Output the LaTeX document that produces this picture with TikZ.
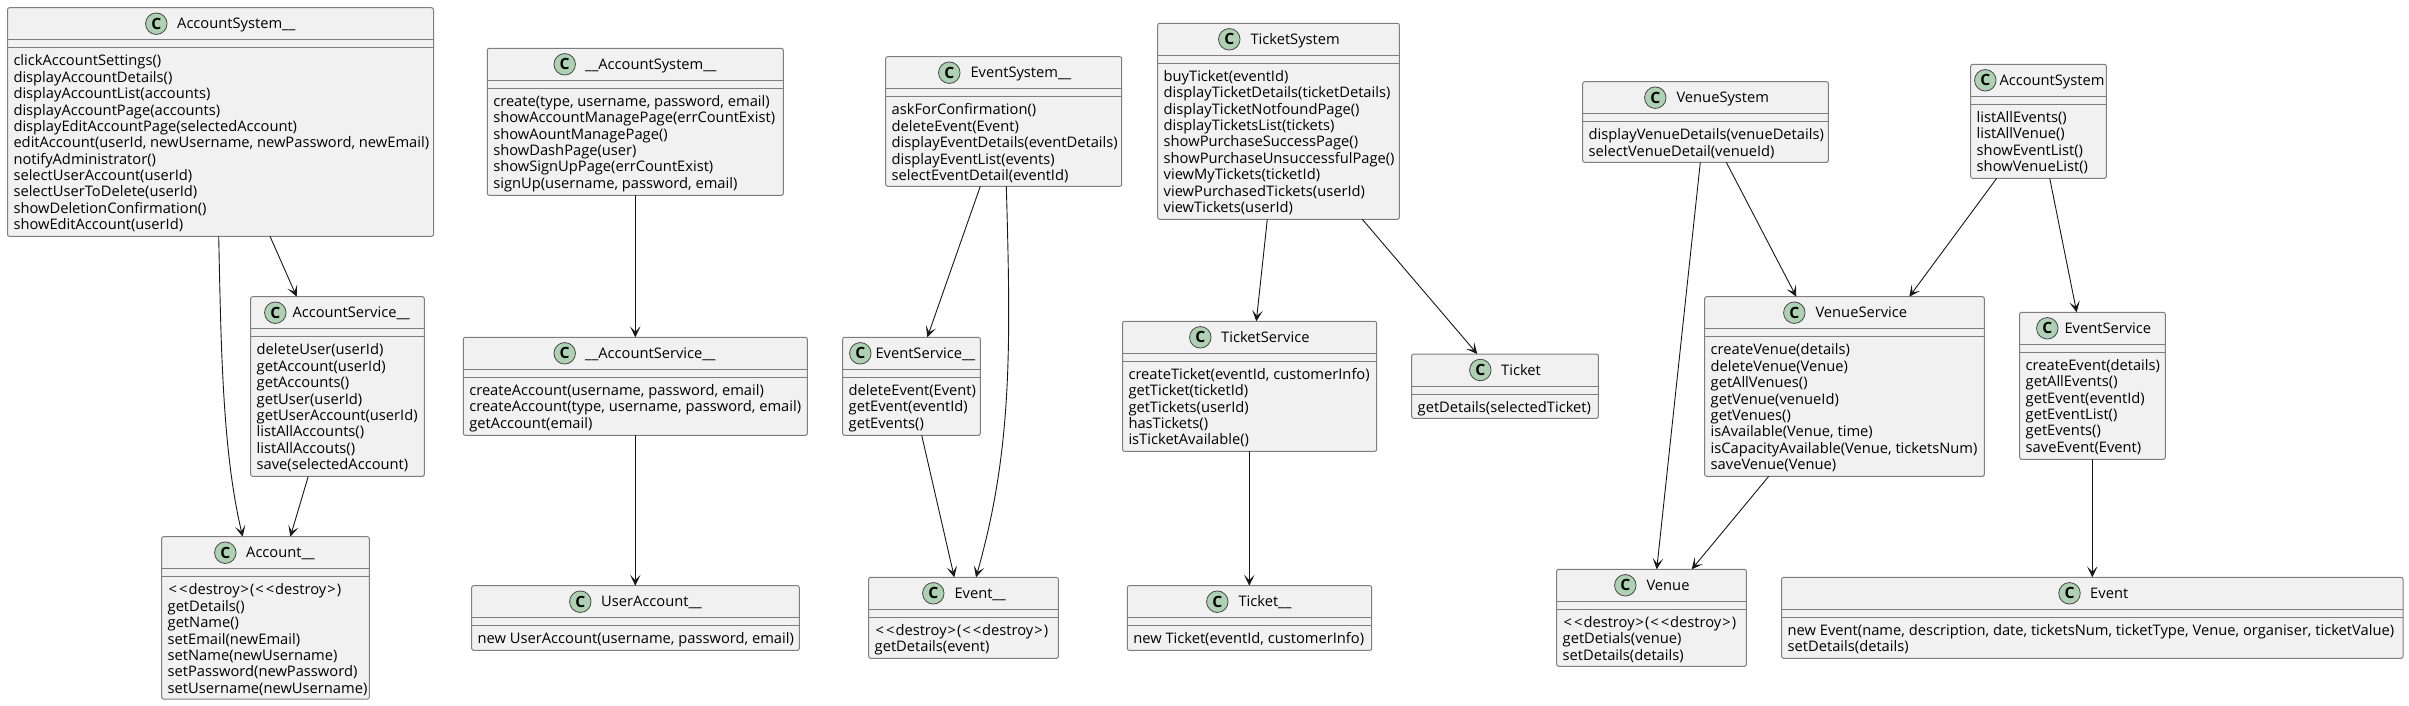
\documentclass[tikz,border=0pt]{standalone}
\usepackage{fontspec}
\setmainfont[FakeStretch=1.01]{Open Sans}
\usetikzlibrary{arrows.meta}
\definecolor{boxfill}{HTML}{F1F1F1}
\definecolor{boxline}{HTML}{7E7E7E}
\definecolor{spot}{HTML}{ADD1B2}
\definecolor{ink}{HTML}{181818}
\tikzset{
  classbox/.style={draw=boxline,fill=boxfill,line width=1pt,rounded corners=2pt,inner sep=0pt,outer sep=0pt,anchor=north west},
  divider/.style={draw=boxline,line width=1pt},
  spotc/.style={circle,draw=ink!80,fill=spot,line width=.8pt,minimum size=21.5pt,inner sep=0pt,font=\fontsize{15.5}{15.5}\selectfont\bfseries,text=black},
  titletext/.style={anchor=base west,inner sep=0pt,font=\fontsize{14.55}{16.37}\selectfont,text=black},
  methodtext/.style={anchor=north west,inner sep=0pt,align=left,font=\fontsize{14.55}{16.37}\selectfont,text=black},
  conn/.style={draw=ink,line width=.9pt,-{Stealth[length=11pt,width=10.5pt,inset=5.5pt]}},
}
\newcommand{\dstr}{\kern1pt<\kern2pt<\kern1pt destroy\kern1pt>\kern1pt(\kern1pt<\kern2pt<\kern1pt destroy\kern1pt>\kern1pt)}
\newcommand{\cls}[9]{%
  \node[classbox,minimum width={(#3-#2)*1pt},minimum height={(#5-#4)*1pt}] (#1) at (#2pt,-#4pt) {};
  \draw[divider] ([yshift=-32pt]#1.north west) -- ([yshift=-32pt]#1.north east);
  \draw[divider] ([yshift=-40pt]#1.north west) -- ([yshift=-40pt]#1.north east);
  \node[spotc] (#1c) at (#6pt,-#4pt-16pt) {C};
  \node[titletext] (#1t) at (#7pt,-#4pt-21.2pt) {#8};
  \node[methodtext] (#1m) at ([xshift=5.8pt,yshift=-46pt]#1.north west) {\rule{0pt}{12pt}#9};
}
\begin{document}
\begin{tikzpicture}[x=1pt,y=1pt]
\useasboundingbox (0,0) rectangle (2409pt,-705pt);
\fill[white] (0,0) rectangle (2409pt,-705pt);
\cls{acs}{7.5}{433.5}{7.7}{236.3}{156.3}{177}{AccountSystem\_\_}{clickAccountSettings()\\displayAccountDetails()\\displayAccountList(accounts)\\displayAccountPage(accounts)\\displayEditAccountPage(selectedAccount)\\editAccount(userId, newUsername, newPassword, newEmail)\\notifyAdministrator()\\selectUserAccount(userId)\\selectUserToDelete(userId)\\showDeletionConfirmation()\\showEditAccount(userId)}
\cls{asv}{250.7}{424.3}{296.7}{476.3}{275.3}{292.3}{AccountService\_\_}{deleteUser(userId)\\getAccount(userId)\\getAccounts()\\getUser(userId)\\getUserAccount(userId)\\listAllAccounts()\\listAllAccouts()\\save(selectedAccount)}
\cls{acc}{161.7}{369.3}{536.7}{699}{225.3}{246}{Account\_\_}{\dstr\\getDetails()\\getName()\\setEmail(newEmail)\\setName(newUsername)\\setPassword(newPassword)\\setUsername(newUsername)}
\cls{uas}{487.3}{783.3}{48.3}{195.3}{564.7}{585}{\_\_AccountSystem\_\_}{create(type, username, password, email)\\showAccountManagePage(errCountExist)\\showAountManagePage()\\showDashPage(user)\\showSignUpPage(errCountExist)\\signUp(username, password, email)}
\cls{usv}{463.3}{807.3}{337.3}{435.3}{564.7}{585}{\_\_AccountService\_\_}{createAccount(username, password, email)\\createAccount(type, username, password, email)\\getAccount(email)}
\cls{uac}{471.7}{799.3}{585.7}{650.3}{580.3}{601}{UserAccount\_\_}{new UserAccount(username, password, email)}
\cls{evs}{885.7}{1121.7}{56.7}{186.3}{949.3}{970.3}{EventSystem\_\_}{askForConfirmation()\\deleteEvent(Event)\\displayEventDetails(eventDetails)\\displayEventList(events)\\selectEventDetail(eventId)}
\cls{evv}{842.7}{980.3}{337.3}{435.3}{860.3}{875.3}{EventService\_\_}{deleteEvent(Event)\\getEvent(eventId)\\getEvents()}
\cls{evt}{868.7}{1058.3}{577.3}{658.3}{933.3}{954.3}{Event\_\_}{\dstr\\getDetails(event)}
\cls{tks}{1157.7}{1399.3}{23.3}{219.3}{1229.3}{1250.3}{TicketSystem}{buyTicket(eventId)\\displayTicketDetails(ticketDetails)\\displayTicketNotfoundPage()\\displayTicketsList(tickets)\\showPurchaseSuccessPage()\\showPurchaseUnsuccessfulPage()\\viewMyTickets(ticketId)\\viewPurchasedTickets(userId)\\viewTickets(userId)}
\cls{tkv}{1122.5}{1376.7}{321.3}{451.3}{1200.3}{1221}{TicketService}{createTicket(eventId, customerInfo)\\getTicket(ticketId)\\getTickets(userId)\\hasTickets()\\isTicketAvailable()}
\cls{tku}{1127.3}{1371.7}{585.7}{650.3}{1217.3}{1238.3}{Ticket\_\_}{new Ticket(eventId, customerInfo)}
\cls{tkt}{1411.7}{1598.3}{354}{418.3}{1480.3}{1501}{Ticket}{getDetails(selectedTicket)}
\cls{vns}{1582.7}{1828.3}{81.7}{162.3}{1655.3}{1676.3}{VenueSystem}{displayVenueDetails(venueDetails)\\selectVenueDetail(venueId)}
\cls{vnv}{1704.7}{1984.3}{296.7}{476.3}{1794.3}{1815.3}{VenueService}{createVenue(details)\\deleteVenue(Venue)\\getAllVenues()\\getVenue(venueId)\\getVenues()\\isAvailable(Venue, time)\\isCapacityAvailable(Venue, ticketsNum)\\saveVenue(Venue)}
\cls{vnu}{1556.7}{1746.3}{569.3}{666.3}{1625.3}{1646.3}{Venue}{\dstr\\getDetials(venue)\\setDetails(details)}
\cls{acn}{1970.7}{2106.3}{64.3}{178.3}{1985.3}{1999.3}{AccountSystem}{listAllEvents()\\listAllVenue()\\showEventList()\\showVenueList()}
\cls{esv}{2019.7}{2165.3}{312.3}{459.3}{2047.3}{2064.3}{EventService}{createEvent(details)\\getAllEvents()\\getEvent(eventId)\\getEventList()\\getEvents()\\saveEvent(Event)}
\cls{ent}{1781.7}{2403}{577.3}{658.3}{2069.5}{2090}{Event}{new Event(name, description, date, ticketsNum, ticketType, Venue, organiser, ticketValue)\\setDetails(details)}
% connectors
\draw[conn] ([xshift=211.2pt]acs.south west) .. controls (221pt,-340pt) and (222pt,-450pt) .. ([xshift=81pt]acc.north west);
\draw[conn] ([xshift=262.5pt]acs.south west) -- ([xshift=46pt]asv.north west);
\draw[conn] ([xshift=57.6pt]asv.south west) -- ([xshift=128.6pt]acc.north west);
\draw[conn] ([xshift=148pt]uas.south west) -- ([xshift=172pt]usv.north west);
\draw[conn] ([xshift=172pt]usv.south west) -- ([xshift=163.6pt]uac.north west);
\draw[conn] ([xshift=94.6pt]evs.south west) -- ([xshift=84.6pt]evv.north west);
\draw[conn] ([xshift=120.6pt]evs.south west) .. controls (1011pt,-350pt) and (1012pt,-450pt) .. ([xshift=107.3pt]evt.north west);
\draw[conn] ([xshift=79pt]evv.south west) -- ([xshift=85.6pt]evt.north west);
\draw[conn] ([xshift=109.6pt]tks.south west) -- ([xshift=133.8pt]tkv.north west);
\draw[conn] ([xshift=204.6pt]tks.south west) -- ([xshift=65.6pt]tkt.north west);
\draw[conn] ([xshift=126.8pt]tkv.south west) -- ([xshift=122pt]tku.north west);
\draw[conn] ([xshift=117.6pt]vns.south west) -- ([xshift=100pt]vnu.north west);
\draw[conn] ([xshift=143.6pt]vns.south west) -- ([xshift=91.6pt]vnv.north west);
\draw[conn] ([xshift=64pt]vnv.south west) -- ([xshift=135pt]vnu.north west);
\draw[conn] ([xshift=26pt]acn.south west) -- ([xshift=204.6pt]vnv.north west);
\draw[conn] ([xshift=79pt]acn.south west) -- ([xshift=57pt]esv.north west);
\draw[conn] ([xshift=72.6pt]esv.south west) -- ([xshift=310.6pt]ent.north west);
\end{tikzpicture}
\end{document}
